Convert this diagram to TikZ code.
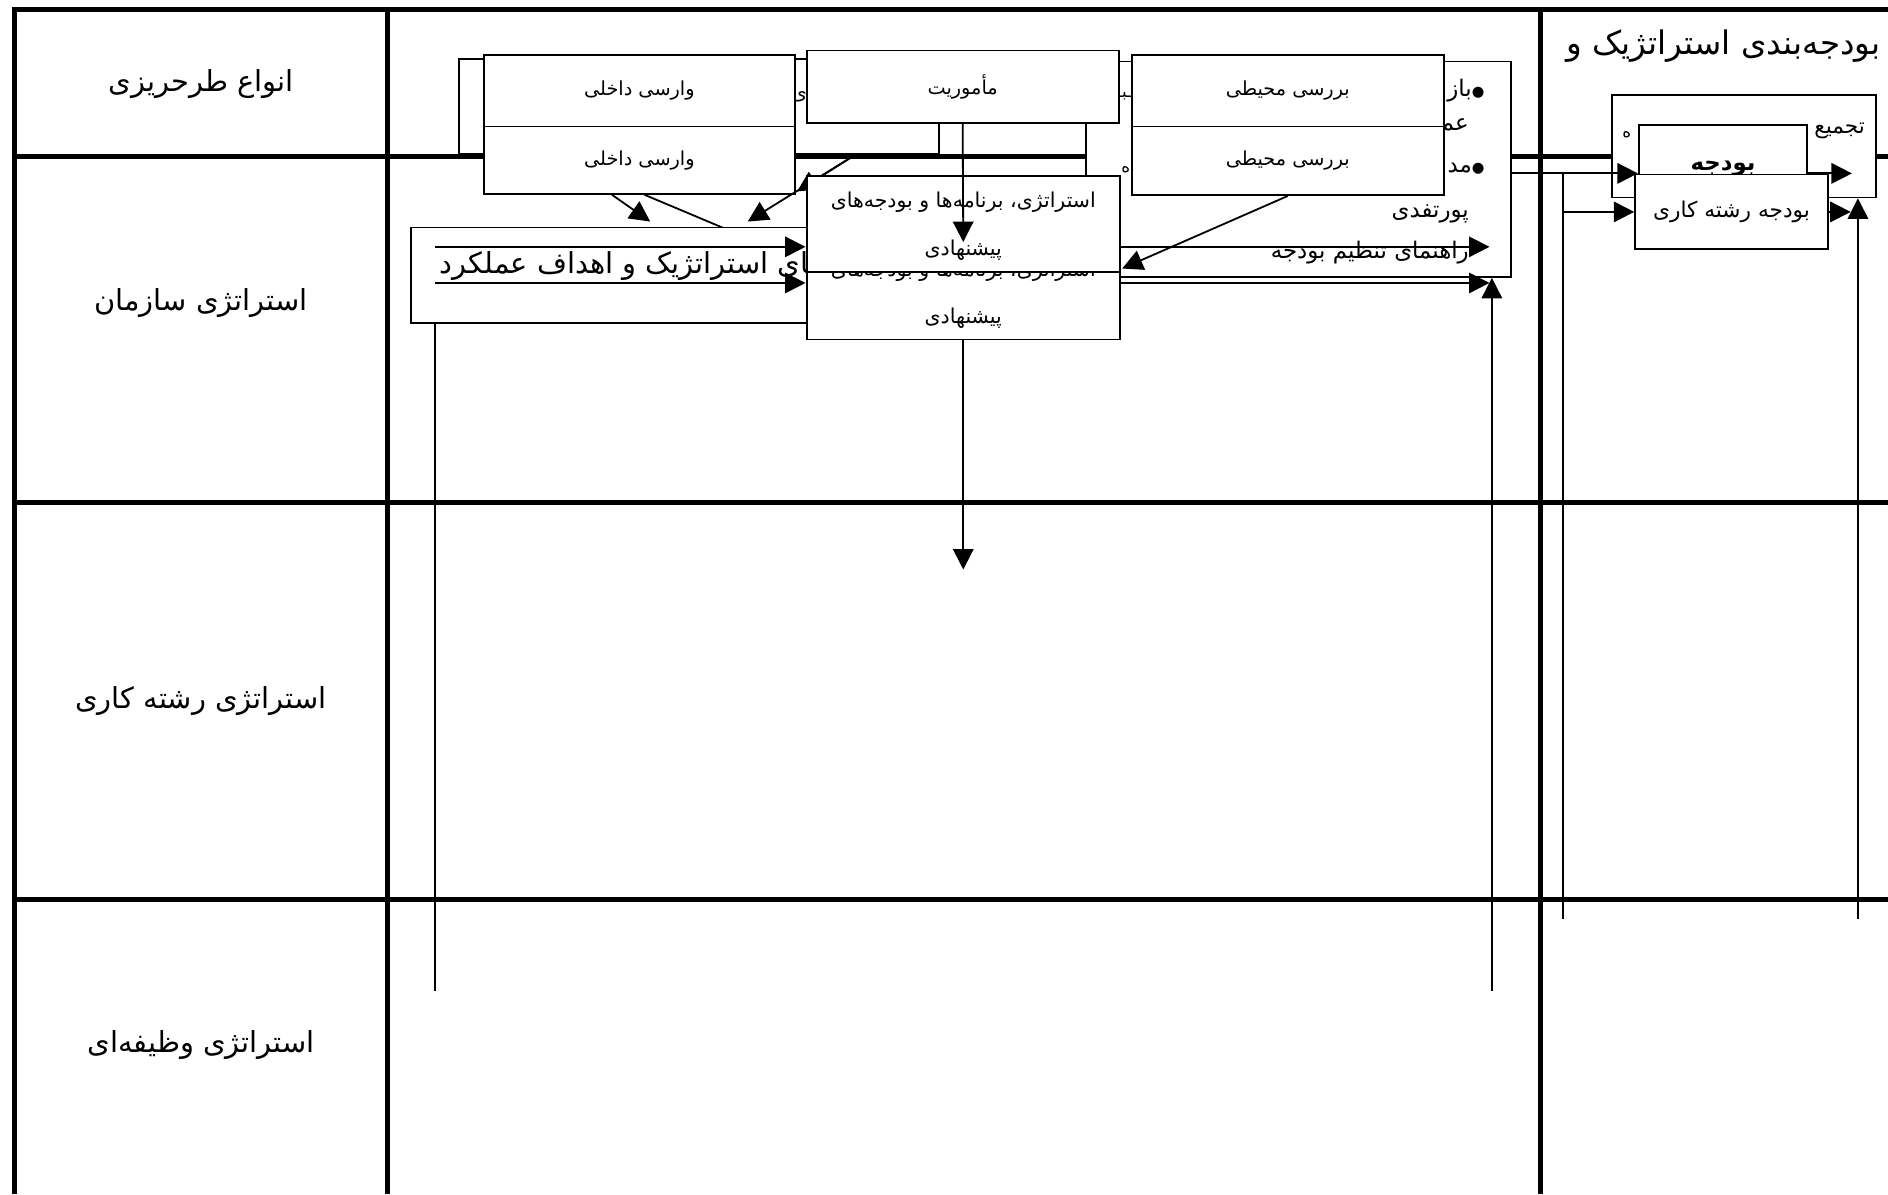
\documentclass[tikz,border=0pt]{standalone}
\usepackage{fontspec}
\newfontfamily\arabicfont[Script=Arabic]{DejaVu Sans}
\TeXXeTstate=1
\usetikzlibrary{arrows.meta, positioning}
\newcommand{\fatext}[1]{{\arabicfont\beginR #1\endR}}
\newcommand{\dotmark}{{\fontsize{12}{14}\selectfont ●}}

\begin{document}
\begin{tikzpicture}[
    x=1pt, y=-1pt,
    every node/.style={inner sep=0pt},
    gridline/.style={line width=4.2pt},
    thinline/.style={line width=1.5pt},
    boxnode/.style={draw, fill=white, line width=1.5pt},
    flow/.style={line width=1.5pt, -{Triangle[length=17pt, width=17pt]}},
    rowlabel/.style={font=\fontsize{24}{28}\selectfont},
    boxtext/.style={font=\fontsize{16}{19}\selectfont},
    strattext/.style={font=\fontsize{17}{20}\selectfont},
    sidetext/.style={font=\fontsize{19}{22}\selectfont},
    smalltext/.style={font=\fontsize{14}{17}\selectfont}
  ]
  \useasboundingbox (0,0) rectangle (1568,992);

  % table
  \draw[gridline] (12,992) -- (12,8) -- (1568,8);
  \draw[gridline] (322,8) -- (322,992);
  \draw[gridline] (1279,8) -- (1279,992);
  \foreach \y in {130,417,747}
    \draw[gridline] (12,\y) -- (1568,\y);

  \node[rowlabel] (typeslbl) at (167,70) {\fatext{انواع طرحریزی}};
  \node[rowlabel] (orglbl) at (167,252) {\fatext{استراتژی سازمان}};
  \node[rowlabel] (unitlbl) at (167,582) {\fatext{استراتژی رشته کاری}};
  \node[rowlabel] (funclbl) at (167,868) {\fatext{استراتژی وظیفه^^^^200cای}};
  \node[rowlabel, font=\fontsize{27}{31}\selectfont, anchor=east] (budgethdr) at (1562,38) {\fatext{بودجه^^^^200cبندی استراتژیک و}};

  % boxes behind
  \node[boxnode, minimum width=399pt, minimum height=79pt] (bgback) at (580.5,88.5) {};
  \node[boxtext] (bgfrag) at (664,80) {\fatext{ی}};
  \node[boxnode, minimum width=353pt, minimum height=179pt] (bigbox) at (1078.5,140.5) {};
  \node[sidetext, anchor=east] (fbkline) at (1233,75) {\fatext{\dotmark باز}};
  \node[sidetext, anchor=east] (perfline) at (1220,106) {\fatext{عم}};
  \node[sidetext, anchor=east] (mgmtline) at (1233,140) {\fatext{\dotmark مد}};
  \node[sidetext, anchor=east] (portline) at (1220,178) {\fatext{پورتفدی}};
  \node[sidetext, anchor=east] (guidetext) at (1220,210) {\fatext{راهنمای تنظیم بودجه}};
  \node[smalltext] (midfraga) at (934,80) {\fatext{ـبـ}};
  \node[smalltext] (midfragb) at (935,141) {\fatext{ه}};

  % top boxes
  \node[boxnode, boxtext, minimum width=258pt, minimum height=59pt] (vdtop) at (531,75.5) {\fatext{وارسی داخلی}};
  \node[boxnode, boxtext, minimum width=258pt, minimum height=56pt] (vdlow) at (531,133) {\fatext{وارسی داخلی}};
  \node[boxnode, boxtext, minimum width=259pt, minimum height=60pt] (mission) at (799.5,72) {\fatext{مأموریت}};
  \node[boxnode, boxtext, minimum width=259pt, minimum height=59pt] (envtop) at (1069.5,75.5) {\fatext{بررسی محیطی}};
  \node[boxnode, boxtext, minimum width=259pt, minimum height=57pt] (envlow) at (1069.5,133.5) {\fatext{بررسی محیطی}};

  \coordinate (tipA) at (540,184);
  \coordinate (crossA) at (708,130);
  \coordinate (tipB) at (662,159);
  \coordinate (tipC) at (621,184);
  \draw[flow] ([xshift=107pt]vdlow.south west) -- (tipA);
  \draw[thinline] ([xshift=134pt]vdlow.south west) -- (600,189);
  \draw[flow] (crossA) -- (tipB);
  \draw[flow] (crossA) -- (tipC);

  % goals box
  \node[boxnode, minimum width=330pt, minimum height=79pt] (goalbox) at (506,228.5) {};
  \node[rowlabel, anchor=west] (goaltext) at (365,221) {\fatext{های استراتژیک و اهداف عملکرد}};
  \coordinate (railL) at (361,823);
  \draw[thinline] (railL) -- (railL |- goalbox.south);
  \draw[flow] (361,205) -- (669,205);
  \draw[flow] (361,235) -- (669,235);

  % proposed strategy boxes
  \node[boxnode, minimum width=260pt, minimum height=80pt] (stratlow) at (800,242) {};
  \node[strattext] (stratlowa) at (800,225) {\fatext{استراتژی، برنامه^^^^200cها و بودجه^^^^200cهای}};
  \node[strattext] (stratlowb) at (800,264) {\fatext{پیشنهادی}};
  \node[boxnode, minimum width=260pt, minimum height=80pt] (stratup) at (800,186) {};
  \node[strattext] (stratupa) at (800,168) {\fatext{استراتژی، برنامه^^^^200cها و بودجه^^^^200cهای}};
  \node[strattext] (stratupb) at (800,208) {\fatext{پیشنهادی}};

  \coordinate (tipM) at (800,201);
  \coordinate (tipDown) at (800,473);
  \coordinate (tipE) at (932,223);
  \draw[flow] (mission.south) -- (tipM);
  \draw[flow] (stratlow.south) -- (tipDown);
  \draw[flow] (envlow.south) -- (tipE);
  \draw[flow] (stratup.east |- 0,205) -- (1237,205);
  \draw[thinline] (stratup.east |- 0,230) -- (1228,230);
  \draw[flow] (stratup.east |- 0,235) -- (1237,235);
  \coordinate (railR) at (1239,823);
  \draw[flow] (railR) -- (railR |- bigbox.south);

  % budget column
  \node[boxnode, minimum width=219pt, minimum height=85pt] (mergebox) at (1448.5,121.5) {};
  \node[sidetext, font=\fontsize{18}{21}\selectfont, anchor=east] (mergetext) at (1549,109) {\fatext{تجمیع}};
  \node[smalltext] (mergefrag) at (1351,112) {\fatext{ه}};
  \node[boxnode, minimum width=140pt, minimum height=56pt] (budget) at (1431,132) {};
  \node[font=\fontsize{19}{22}\selectfont\bfseries] (budgettext) at (1431,140) {\fatext{بودجه}};
  \node[boxnode, font=\fontsize{18}{21}\selectfont, minimum width=160pt, minimum height=62pt] (unitbudget) at (1438,176) {\fatext{بودجه رشته کاری}};

  \coordinate (junction) at (1298,144);
  \coordinate (railM) at (1298,763);
  \coordinate (railRR) at (1543,763);
  \draw[flow] (bigbox.east |- junction) -- (budget.west |- junction);
  \draw[thinline] (junction) -- (railM);
  \draw[flow] (junction |- unitbudget.west) -- (unitbudget.west);
  \draw[flow] (budget.east |- junction) -- (1538,144);
  \draw[flow] (unitbudget.east) -- (1537,176);
  \draw[flow] (railRR) -- (railRR |- mergebox.south);
\end{tikzpicture}
\end{document}
